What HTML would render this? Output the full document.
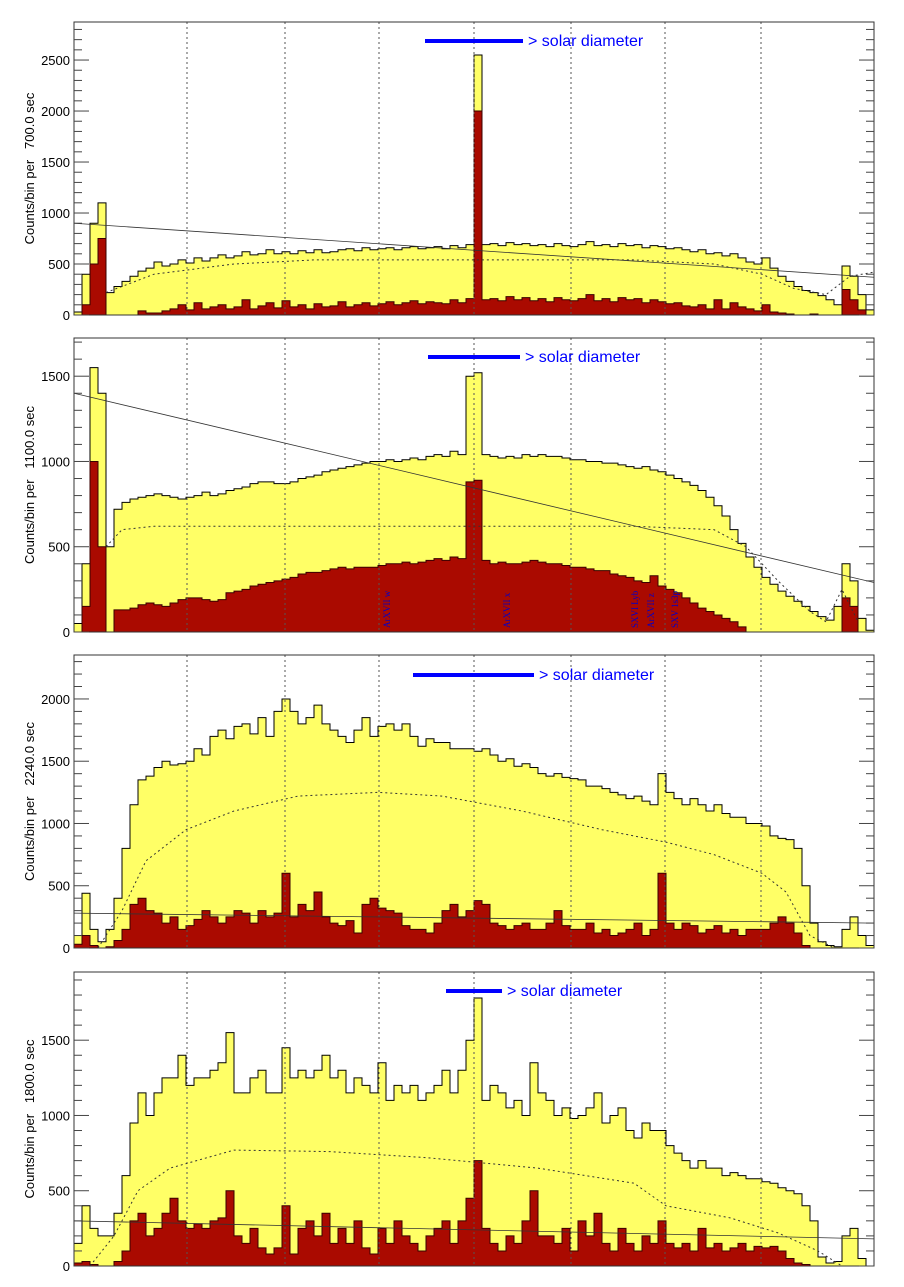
<!DOCTYPE html>
<html><head><meta charset="utf-8"><style>
html,body{margin:0;padding:0;background:#fff;}
svg{display:block;font-family:"Liberation Sans",sans-serif;}
.pre{white-space:pre;}
</style></head><body>
<svg id="chart" width="904" height="1287" viewBox="0 0 904 1287" xmlns="http://www.w3.org/2000/svg"></svg>
<script>
// ---- data (100 bins per panel) ----
const p1Total=[30,400,900,1100,220,280,330,380,430,460,520,480,500,540,510,560,530,560,590,560,580,620,590,600,640,600,620,600,630,610,640,610,620,640,650,630,660,640,650,660,640,660,670,650,660,670,650,680,660,690,2550,690,700,680,710,690,700,680,690,670,700,680,670,690,720,680,690,670,700,680,690,660,680,670,650,660,640,620,640,600,610,580,600,560,520,500,560,460,380,330,280,240,220,190,150,100,480,380,200,50];
const p1Line=[0,100,500,750,0,0,0,0,40,20,20,40,60,100,50,120,60,80,100,60,80,150,60,90,120,70,140,80,100,60,110,80,90,130,80,100,120,90,110,130,100,120,140,110,130,120,110,150,120,160,2000,150,160,140,180,150,170,140,160,130,170,150,140,160,200,140,160,130,170,150,160,120,150,130,110,120,90,80,100,60,150,60,120,80,60,40,100,30,20,10,0,0,10,0,0,0,250,150,50,0];
const p2Total=[50,400,1550,1400,500,720,760,780,790,800,810,800,790,780,790,800,820,800,810,830,840,850,870,880,880,870,870,880,900,910,920,940,950,960,970,980,990,1000,1000,1010,1000,1010,1020,1010,1030,1040,1030,1060,1040,1500,1520,1040,1030,1020,1030,1020,1040,1030,1040,1030,1030,1020,1010,1010,1000,1000,990,990,980,970,960,970,950,940,920,900,880,860,830,790,740,680,600,520,440,380,320,280,240,210,180,150,120,90,70,150,400,300,80,10];
const p2Line=[0,150,1000,500,0,130,130,140,160,170,160,150,170,190,200,200,190,180,190,230,240,250,270,280,290,300,310,320,340,350,350,360,370,380,370,380,380,380,390,400,400,410,400,410,420,430,420,440,430,880,890,420,400,410,400,400,410,420,410,400,400,390,380,380,370,360,360,340,330,320,300,290,330,270,250,230,200,170,140,120,100,80,60,30,0,0,0,0,0,0,0,0,0,0,0,0,200,150,0,0];
const p3Total=[100,440,150,50,150,400,800,1150,1350,1380,1450,1500,1470,1480,1500,1600,1550,1700,1750,1680,1780,1800,1720,1850,1700,1900,2000,1900,1800,1850,1950,1800,1750,1700,1650,1750,1850,1700,1780,1800,1750,1800,1700,1620,1680,1650,1650,1600,1600,1600,1580,1600,1550,1500,1520,1460,1480,1450,1400,1380,1400,1370,1360,1350,1300,1300,1280,1250,1230,1200,1220,1180,1150,1400,1250,1200,1150,1200,1150,1100,1150,1080,1050,1050,1000,1000,980,900,880,870,800,500,200,50,20,10,150,250,100,20];
const p3Line=[30,100,20,0,10,60,150,350,400,300,280,200,250,150,180,230,300,250,200,250,300,280,200,300,250,280,600,250,350,300,450,250,200,180,220,120,350,400,320,300,280,180,150,150,120,200,300,350,250,300,380,350,200,180,150,180,200,150,150,200,300,180,150,150,200,120,150,100,120,150,200,100,150,600,200,150,200,180,120,150,180,120,150,100,150,150,150,200,250,200,120,20,0,0,0,0,0,0,0,0];
const p4Total=[150,400,250,200,200,350,600,950,1150,1000,1150,1250,1250,1400,1200,1250,1250,1300,1350,1550,1150,1150,1250,1300,1150,1150,1450,1250,1300,1250,1300,1400,1250,1300,1150,1250,1200,1150,1350,1100,1200,1150,1200,1100,1150,1200,1300,1150,1300,1500,1780,1100,1200,1150,1050,1100,1000,1350,1150,1100,1000,1050,980,1000,1050,1150,950,1000,1050,900,850,950,900,900,800,750,700,650,700,650,650,600,620,600,580,580,560,550,520,500,480,400,300,60,20,30,200,250,50,0];
const p4Line=[20,30,10,0,0,30,100,300,350,200,250,350,450,300,250,280,250,300,320,500,200,150,250,120,80,120,400,80,250,300,200,350,150,250,150,300,120,80,250,150,300,200,150,100,200,250,300,150,300,450,700,250,150,100,200,150,300,500,200,200,150,250,100,300,200,350,150,100,250,150,100,200,150,300,150,120,150,100,250,120,150,100,120,150,100,130,120,130,100,50,20,10,0,0,0,0,0,0,0,0];
// model curves (bin index, counts)
const p1ModelBin=[4,10,20,30,50,70,80,86,90,94,97,100];
const p1ModelVal=[220,400,500,540,540,540,500,400,260,200,380,420];
const p2ModelBin=[4,6,10,30,50,70,80,84,88,92,94,96,98];
const p2ModelVal=[500,600,620,620,620,620,600,500,300,120,60,250,60];
const p3ModelBin=[3,6,9,14,20,28,38,46,56,66,74,80,86,89,92,95];
const p3ModelVal=[0,300,700,950,1100,1220,1250,1220,1100,950,850,750,600,450,100,0];
const p4ModelBin=[2,5,8,12,20,32,44,58,70,74,82,88,93,96];
const p4ModelVal=[0,200,500,650,770,760,720,650,550,400,320,220,100,0];
const p1Fit=[900,370], p2Fit=[1400,290], p3Fit=[280,200], p4Fit=[300,180];
const p1Ticks=[0,500,1000,1500,2000,2500], p2Ticks=[0,500,1000,1500], p3Ticks=[0,500,1000,1500,2000], p4Ticks=[0,500,1000,1500];
const expTimes=["700.0","1100.0","2240.0","1800.0"];
const lineLabels=["ArXVII w","ArXVII x","SXVI Lyb","ArXVII z","SXV 1s3p"];
const lineLabelBins=[39,54,70,72,75];

const NS="http://www.w3.org/2000/svg";
const svg=document.getElementById('chart');
function mk(tag,attrs,parent){const e=document.createElementNS(NS,tag);for(const k in attrs)e.setAttribute(k,attrs[k]);(parent||svg).appendChild(e);return e;}
const X0=74,X1=874,NB=100,BW=(X1-X0)/NB;
const panels=[
 {top:22,bot:315,ymax:2873,tot:p1Total,line:p1Line,mb:p1ModelBin,mv:p1ModelVal,fit:p1Fit,ticks:p1Ticks,minor:100,bar:[425,523],bary:41},
 {top:338,bot:632,ymax:1724,tot:p2Total,line:p2Line,mb:p2ModelBin,mv:p2ModelVal,fit:p2Fit,ticks:p2Ticks,minor:100,bar:[428,520],bary:357},
 {top:655,bot:948,ymax:2353,tot:p3Total,line:p3Line,mb:p3ModelBin,mv:p3ModelVal,fit:p3Fit,ticks:p3Ticks,minor:100,bar:[413,534],bary:675},
 {top:972,bot:1266,ymax:1953,tot:p4Total,line:p4Line,mb:p4ModelBin,mv:p4ModelVal,fit:p4Fit,ticks:p4Ticks,minor:100,bar:[446,502],bary:991}
];
const grid=[187,285,379,474,571,665,761];
function histPath(vals,ys,bot){let d=`M${X0},${bot}`;vals.forEach((v,i)=>{const y=Math.min(bot,ys(v));d+=` L${X0+i*BW},${y} L${X0+(i+1)*BW},${y}`;});return d+` L${X1},${bot} Z`;}
panels.forEach((p,k)=>{
 const ys=v=>p.bot-(v/p.ymax)*(p.bot-p.top);
 const xb=b=>X0+b*BW;
 const g=mk('g',{});
 
 
 const clip=mk('clipPath',{id:'c'+k},g);mk('rect',{x:X0,y:p.top,width:X1-X0,height:p.bot-p.top},clip);
 const pg=mk('g',{'clip-path':`url(#c${k})`},g);
 const yt=mk('path',{d:histPath(p.tot,ys,p.bot),fill:'#ffff66',stroke:'#000','stroke-width':1},pg);
 
 
 const rl=mk('path',{d:histPath(p.line,ys,p.bot),fill:'#aa0a00',stroke:'#3a0000','stroke-width':1},pg);
 
 
 grid.forEach(x=>{const l=mk('line',{x1:x,x2:x,y1:p.top,y2:p.bot,stroke:'#555','stroke-width':1,'stroke-dasharray':'2,3'},pg);
  
  });
 let md='';p.mb.forEach((b,i)=>{md+=(i?' L':'M')+xb(b)+','+ys(p.mv[i]);});
 const m=mk('path',{d:md,fill:'none',stroke:'#333','stroke-width':1,'stroke-dasharray':'2,3'},pg);
 
 
 const f=mk('line',{x1:X0,x2:X1,y1:ys(p.fit[0]),y2:ys(p.fit[1]),stroke:'#333','stroke-width':0.8},pg);
 
 
 const fr=mk('rect',{x:X0,y:p.top,width:X1-X0,height:p.bot-p.top,fill:'none',stroke:'#333','stroke-width':1},g);
 
 
 for(let v=0;v<p.ymax;v+=p.minor){const y=ys(v);const major=p.ticks.includes(v);const L=major?15:8;
  mk('line',{x1:X0,x2:X0+L,y1:y,y2:y,stroke:'#444'},g);mk('line',{x1:X1-L,x2:X1,y1:y,y2:y,stroke:'#444'},g);}
 p.ticks.forEach(v=>{const t=mk('text',{x:X0-4,y:ys(v)+5,'text-anchor':'end','font-size':13,fill:'#000'},g);t.textContent=v;
  
  });
 const cy=(p.top+p.bot)/2;
 const yl=mk('text',{x:0,y:0,transform:`translate(34,${cy}) rotate(-90)`,'text-anchor':'middle','font-size':13,fill:'#000','class':'pre'},g);
 yl.textContent='Counts/bin per   '+expTimes[k]+' sec';
 
 
 const sb=mk('line',{x1:p.bar[0],x2:p.bar[1],y1:p.bary,y2:p.bary,stroke:'#0000ff','stroke-width':4},g);
 
 
 const st=mk('text',{x:p.bar[1]+5,y:p.bary+5,'font-size':16,fill:'#0000ff'},g);
 st.textContent='> solar diameter';
 
 
 if(k===1){lineLabels.forEach((s,i)=>{const x=xb(lineLabelBins[i])+4;
  const t=mk('text',{x:0,y:0,transform:`translate(${x},628) rotate(-90)`,'font-size':9,fill:'#0000cc','font-family':'Liberation Serif, serif'},g);
  t.textContent=s;
  
  });}
});
</script>
</body></html>
